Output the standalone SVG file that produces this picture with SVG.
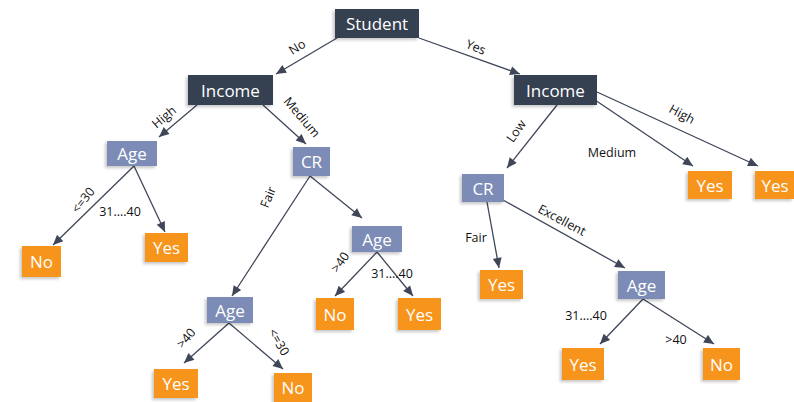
<svg xmlns="http://www.w3.org/2000/svg" width="794" height="402" viewBox="0 0 794 402">
<style>
.n rect{stroke:none}
.root rect{fill:#363f51}
.attr rect{fill:#7b8cb6}
.leaf rect{fill:#f7941e}
.n text{fill:#ffffff;font-family:"Open Sans","Liberation Sans",sans-serif;font-size:17px;text-anchor:middle;dominant-baseline:central}
.e line{stroke:#3e4658;stroke-width:1.3;fill:none;marker-end:url(#ah)}
.lb{font-family:"Open Sans","Liberation Sans",sans-serif;font-size:12.5px;fill:#111;text-anchor:middle;dominant-baseline:central}
</style>
<defs>
<marker id="ah" markerUnits="userSpaceOnUse" markerWidth="11" markerHeight="10" refX="10" refY="5" orient="auto" viewBox="0 0 10 10">
<path d="M0,0.5 L10,5 L0,9.5 Z" fill="#3e4658"/>
</marker>
<filter id="sh" x="-20%" y="-20%" width="140%" height="150%">
<feDropShadow dx="-2" dy="2" stdDeviation="1.5" flood-color="#000" flood-opacity="0.22"/>
</filter>
</defs>
<rect width="794" height="402" fill="#ffffff"/>
<g id="connectors" class="e">
<line x1="337" y1="38" x2="276" y2="74"/>
<line x1="419" y1="38" x2="520" y2="74"/>
<line x1="197" y1="105" x2="159" y2="137"/>
<line x1="263" y1="105" x2="306" y2="144"/>
<line x1="134" y1="166" x2="53" y2="245"/>
<line x1="134" y1="166" x2="165" y2="232"/>
<line x1="310" y1="176" x2="232" y2="296"/>
<line x1="310" y1="176" x2="362" y2="218"/>
<line x1="377" y1="252" x2="335" y2="296"/>
<line x1="377" y1="252" x2="413" y2="296"/>
<line x1="229" y1="323" x2="184" y2="363"/>
<line x1="229" y1="323" x2="283" y2="369"/>
<line x1="557" y1="105" x2="507" y2="168"/>
<line x1="595" y1="100" x2="693" y2="166"/>
<line x1="597" y1="92" x2="758" y2="166"/>
<line x1="487" y1="202" x2="499" y2="268"/>
<line x1="503" y1="200" x2="625" y2="268"/>
<line x1="643" y1="299" x2="600" y2="344"/>
<line x1="643" y1="299" x2="714" y2="344"/>
</g>
<g id="edge-labels">
<text class="lb" x="297" y="47" transform="rotate(-32 297 47)">No</text>
<text class="lb" x="476" y="47" transform="rotate(22 476 47)">Yes</text>
<text class="lb" x="164" y="117" transform="rotate(-40 164 117)">High</text>
<text class="lb" x="302" y="117" transform="rotate(50 302 117)">Medium</text>
<text class="lb" x="83" y="200" transform="rotate(-52 83 200)">&lt;=30</text>
<text class="lb" x="120" y="211">31....40</text>
<text class="lb" x="268" y="197" transform="rotate(-68 268 197)">Fair</text>
<text class="lb" x="340" y="262" transform="rotate(-55 340 262)">&gt;40</text>
<text class="lb" x="392" y="273">31....40</text>
<text class="lb" x="186" y="338" transform="rotate(-50 186 338)">&gt;40</text>
<text class="lb" x="279" y="342" transform="rotate(60 279 342)">&lt;=30</text>
<text class="lb" x="516" y="131" transform="rotate(-55 516 131)">Low</text>
<text class="lb" x="612" y="152">Medium</text>
<text class="lb" x="682" y="114" transform="rotate(28 682 114)">High</text>
<text class="lb" x="476" y="237">Fair</text>
<text class="lb" x="562" y="220" transform="rotate(28 562 220)">Excellent</text>
<text class="lb" x="586" y="315">31....40</text>
<text class="lb" x="676" y="339">&gt;40</text>
</g>
<g id="student" class="n root"><rect x="335" y="9" width="84" height="29" filter="url(#sh)"/><text x="377" y="23.5">Student</text></g>
<g id="income-l" class="n root"><rect x="188" y="75" width="85" height="30" filter="url(#sh)"/><text x="230.5" y="90">Income</text></g>
<g id="income-r" class="n root"><rect x="514" y="75" width="83" height="30" filter="url(#sh)"/><text x="555.5" y="90">Income</text></g>
<g id="age-1" class="n attr"><rect x="107" y="141" width="50" height="25" filter="url(#sh)"/><text x="132" y="153.5">Age</text></g>
<g id="cr-1" class="n attr"><rect x="293" y="147" width="37" height="29" filter="url(#sh)"/><text x="311.5" y="161.5">CR</text></g>
<g id="no-1" class="n leaf"><rect x="22" y="246" width="39" height="31" filter="url(#sh)"/><text x="41.5" y="261.5">No</text></g>
<g id="yes-1" class="n leaf"><rect x="145" y="233" width="43" height="29" filter="url(#sh)"/><text x="166.5" y="247.5">Yes</text></g>
<g id="age-2" class="n attr"><rect x="352" y="226" width="50" height="26" filter="url(#sh)"/><text x="377" y="239">Age</text></g>
<g id="no-2" class="n leaf"><rect x="316" y="298" width="38" height="32" filter="url(#sh)"/><text x="335" y="314">No</text></g>
<g id="yes-2" class="n leaf"><rect x="398" y="298" width="43" height="32" filter="url(#sh)"/><text x="419.5" y="314">Yes</text></g>
<g id="age-3" class="n attr"><rect x="207" y="297" width="46" height="26" filter="url(#sh)"/><text x="230" y="310">Age</text></g>
<g id="yes-3" class="n leaf"><rect x="154" y="369" width="44" height="29" filter="url(#sh)"/><text x="176" y="383.5">Yes</text></g>
<g id="no-3" class="n leaf"><rect x="274" y="373" width="38" height="29" filter="url(#sh)"/><text x="293" y="387.5">No</text></g>
<g id="cr-2" class="n attr"><rect x="462" y="174" width="42" height="28" filter="url(#sh)"/><text x="483" y="188">CR</text></g>
<g id="yes-4" class="n leaf"><rect x="688" y="171" width="44" height="28" filter="url(#sh)"/><text x="710" y="185">Yes</text></g>
<g id="yes-5" class="n leaf"><rect x="755" y="171" width="39" height="28" filter="url(#sh)"/><text x="775" y="185">Yes</text></g>
<g id="yes-6" class="n leaf"><rect x="480" y="270" width="43" height="29" filter="url(#sh)"/><text x="501.5" y="284.5">Yes</text></g>
<g id="age-4" class="n attr"><rect x="618" y="271" width="47" height="28" filter="url(#sh)"/><text x="641.5" y="285">Age</text></g>
<g id="yes-7" class="n leaf"><rect x="562" y="348" width="42" height="32" filter="url(#sh)"/><text x="583" y="364">Yes</text></g>
<g id="no-4" class="n leaf"><rect x="703" y="348" width="37" height="32" filter="url(#sh)"/><text x="721.5" y="364">No</text></g>
</svg>
